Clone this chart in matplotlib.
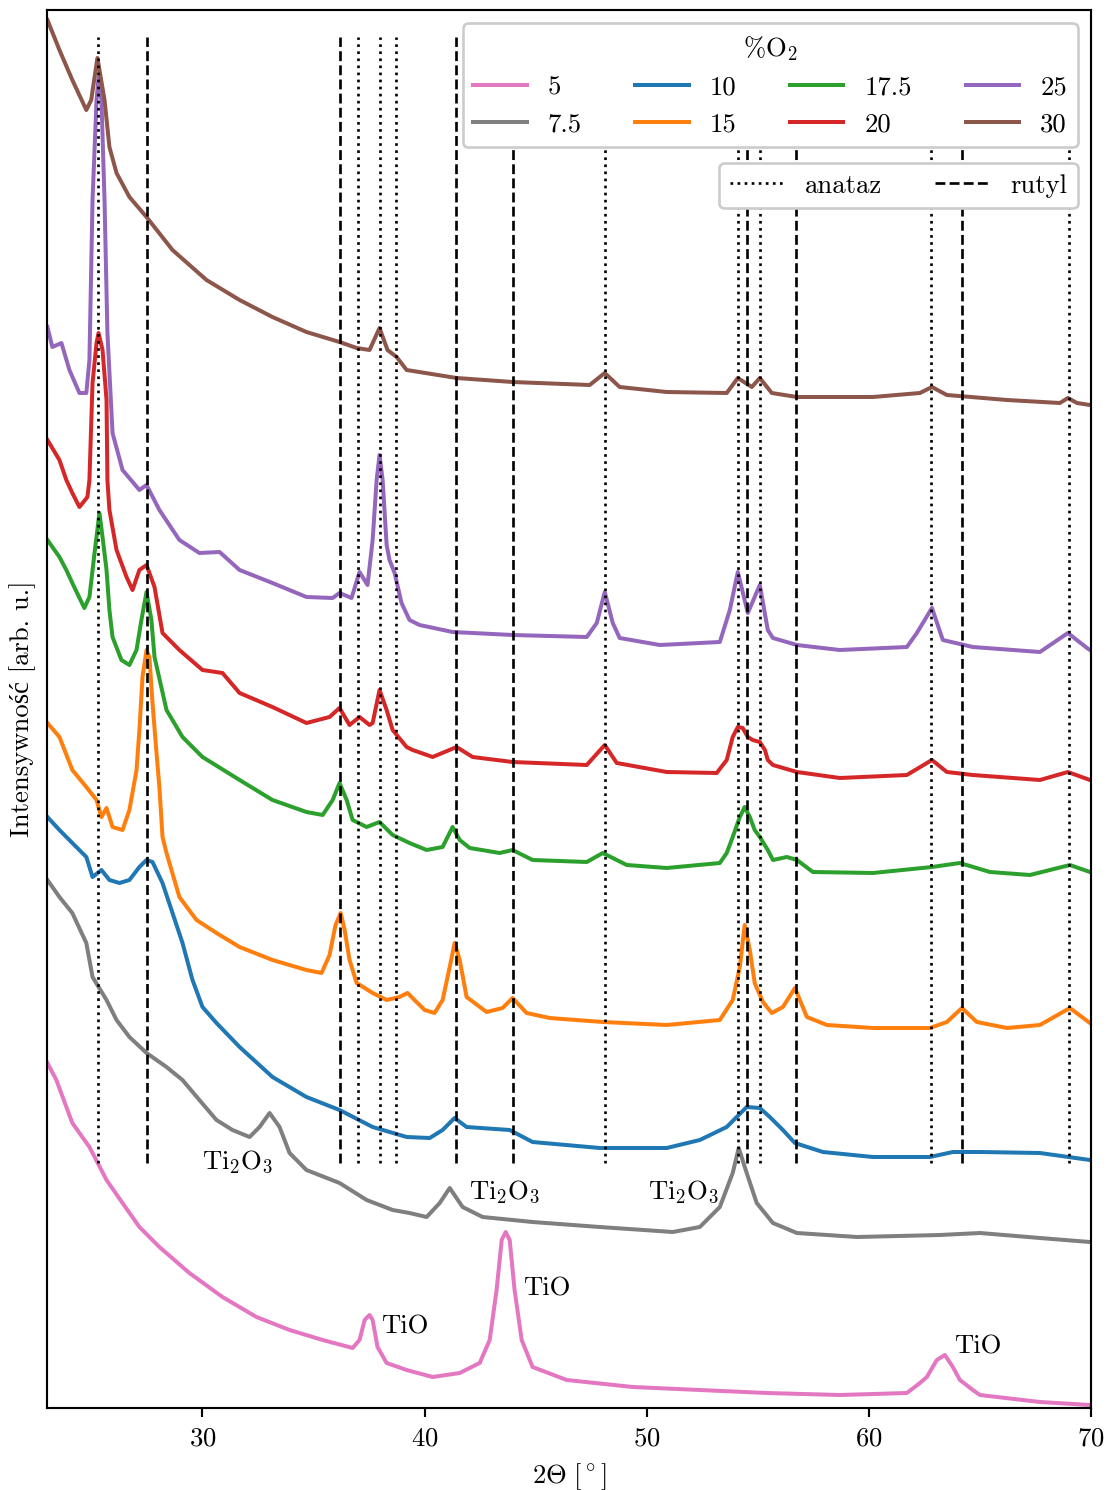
import matplotlib
matplotlib.use("Agg")
import matplotlib.pyplot as plt
from matplotlib.lines import Line2D

plt.rcParams['font.family'] = ['cmr10', 'Liberation Serif']
plt.rcParams['mathtext.fontset'] = 'cm'
plt.rcParams['axes.formatter.use_mathtext'] = True

DPI = 192

# dyfraktogramy, wartosci odczytane (2theta [deg], intensywnosc z przesunieciem)
tt_5 = [23.02, 23.42, 24.14, 24.91, 25.68, 26.40, 27.16, 28.06, 29.41, 30.90, 32.43, 33.92,
        35.41, 36.76, 37.07, 37.30, 37.52, 37.66, 37.88, 38.29, 39.19, 40.36, 41.58, 42.48,
        42.93, 43.24, 43.47, 43.65, 43.83, 44.05, 44.37, 44.86, 46.40, 49.37, 52.39, 55.41,
        58.69, 61.71, 62.30, 62.61, 63.06, 63.42, 63.78, 64.10, 64.68, 65.00, 67.70, 69.95]
int_5 = [345, 328, 285, 261, 228, 205, 181, 161, 135, 111, 91, 78,
         68, 60, 68, 88, 93, 88, 61, 45, 38, 31, 35, 45,
         68, 118, 168, 176, 168, 118, 68, 41, 28, 21, 18, 15,
         13, 15, 25, 31, 48, 53, 41, 28, 18, 13, 6, 3]

tt_7_5 = [23.02, 23.56, 24.14, 24.77, 25.05, 25.68, 26.13, 26.71, 27.48, 28.38, 29.10, 29.86,
          30.63, 31.35, 32.12, 32.57, 33.02, 33.47, 33.92, 34.68, 36.17, 37.39, 38.56, 39.32,
          40.09, 40.68, 41.13, 41.71, 42.61, 44.86, 47.88, 51.17, 52.39, 53.29, 53.87, 54.14,
          54.50, 54.95, 55.68, 56.76, 59.46, 63.20, 65.00, 67.70, 69.95]
int_7_5 = [528, 511, 495, 465, 431, 408, 388, 371, 355, 341, 328, 308,
           288, 278, 271, 281, 295, 281, 255, 238, 225, 208, 198, 195,
           191, 205, 220, 201, 191, 186, 181, 176, 181, 201, 235, 260,
           235, 205, 185, 175, 171, 173, 175, 170, 166]

tt_10 = [23.02, 23.56, 24.14, 24.77, 25.05, 25.45, 25.81, 26.26, 26.71, 27.16, 27.48, 27.75,
         28.20, 28.65, 29.10, 29.55, 30.00, 30.63, 31.67, 33.15, 34.68, 36.17, 37.66, 39.19,
         40.23, 40.81, 41.35, 41.89, 43.83, 44.86, 47.88, 50.90, 52.39, 53.60, 54.50, 55.09,
         55.54, 56.13, 56.67, 57.93, 60.18, 62.75, 63.78, 65.00, 67.70, 69.95]
int_10 = [591, 578, 565, 551, 531, 538, 528, 525, 528, 541, 548, 546,
          525, 495, 465, 428, 401, 385, 361, 331, 311, 298, 281, 271,
          270, 278, 290, 281, 278, 266, 260, 260, 268, 281, 301, 300,
          291, 278, 265, 256, 251, 251, 256, 256, 255, 248]

tt_15 = [23.02, 23.56, 24.14, 24.77, 25.23, 25.45, 25.68, 25.95, 26.40, 26.71, 27.03, 27.16,
         27.30, 27.48, 27.61, 27.75, 27.93, 28.06, 28.20, 28.38, 28.96, 29.73, 30.63, 31.67,
         33.15, 34.68, 35.36, 35.72, 35.99, 36.22, 36.40, 36.62, 36.94, 37.66, 38.29, 38.87,
         39.23, 40.00, 40.45, 40.81, 41.13, 41.35, 41.58, 41.89, 42.79, 43.51, 43.96, 44.59,
         45.63, 48.02, 50.90, 53.29, 53.87, 54.19, 54.41, 54.64, 54.86, 55.23, 55.63, 56.13,
         56.67, 57.21, 58.11, 60.18, 62.75, 63.51, 64.19, 64.86, 66.22, 67.70, 69.05, 69.95]
int_15 = [685, 671, 638, 621, 608, 591, 600, 581, 578, 598, 638, 678,
          731, 758, 751, 705, 655, 621, 571, 555, 511, 488, 475, 461,
          448, 438, 435, 453, 483, 495, 478, 448, 425, 415, 408, 411,
          415, 398, 395, 408, 441, 465, 448, 411, 396, 400, 410, 395,
          390, 386, 383, 388, 408, 441, 483, 458, 425, 406, 395, 401,
          420, 391, 383, 380, 380, 386, 400, 386, 380, 383, 400, 385]

tt_17_5 = [23.02, 23.56, 23.87, 24.14, 24.68, 24.91, 25.14, 25.36, 25.50, 25.68, 25.81, 25.95,
           26.35, 26.71, 27.03, 27.25, 27.48, 27.70, 27.84, 28.38, 29.10, 30.00, 31.67, 33.15,
           34.68, 35.41, 35.86, 36.17, 36.49, 36.76, 37.39, 37.97, 38.56, 39.32, 40.09, 40.81,
           41.26, 41.58, 42.03, 43.38, 43.96, 44.86, 47.30, 48.02, 49.10, 50.90, 53.29, 53.60,
           53.87, 54.19, 54.41, 54.64, 54.86, 55.09, 55.45, 55.68, 56.31, 56.76, 57.48, 60.18,
           62.84, 64.10, 65.45, 67.25, 69.05, 69.95]
int_17_5 = [868, 851, 838, 825, 800, 811, 855, 895, 871, 838, 798, 771,
            748, 743, 758, 788, 816, 788, 751, 698, 671, 651, 628, 608,
            596, 593, 608, 625, 608, 588, 581, 586, 573, 565, 558, 561,
            581, 568, 560, 555, 558, 548, 546, 555, 543, 540, 545, 555,
            571, 591, 601, 591, 578, 571, 558, 548, 551, 548, 536, 535,
            541, 545, 536, 533, 543, 536]

tt_20 = [23.02, 23.56, 23.87, 24.14, 24.46, 24.82, 24.91, 25.05, 25.23, 25.32, 25.50, 25.68,
         25.72, 25.81, 26.13, 26.58, 26.85, 27.16, 27.48, 27.84, 28.20, 28.96, 30.00, 30.90,
         31.67, 33.15, 34.68, 35.72, 36.17, 36.62, 37.07, 37.52, 37.66, 37.97, 38.29, 38.56,
         39.19, 39.46, 40.36, 41.44, 42.16, 43.96, 47.30, 48.11, 48.65, 50.90, 53.15, 53.60,
         53.87, 54.10, 54.32, 54.55, 54.77, 55.09, 55.32, 55.45, 55.68, 56.76, 58.69, 61.71,
         62.84, 63.51, 64.68, 67.70, 68.96, 69.95]
int_20 = [968, 948, 928, 915, 901, 911, 928, 1025, 1065, 1075, 1058, 1008,
          928, 898, 858, 831, 818, 838, 843, 821, 775, 758, 738, 735,
          715, 701, 685, 691, 700, 683, 691, 683, 685, 718, 698, 678,
          661, 658, 651, 661, 651, 646, 643, 663, 645, 636, 635, 648,
          671, 681, 680, 671, 668, 666, 658, 648, 643, 636, 630, 633,
          648, 636, 633, 628, 636, 628]

tt_25 = [23.02, 23.24, 23.65, 24.01, 24.46, 24.77, 24.91, 25.05, 25.23, 25.32, 25.45, 25.59,
         25.72, 25.95, 26.40, 27.16, 27.48, 28.06, 28.96, 29.86, 30.77, 31.67, 33.15, 34.68,
         35.86, 36.17, 36.71, 37.07, 37.43, 37.66, 37.84, 37.97, 38.11, 38.29, 38.42, 38.65,
         38.96, 39.32, 39.77, 41.26, 43.96, 47.30, 47.75, 48.11, 48.47, 48.78, 50.59, 53.29,
         53.74, 54.10, 54.55, 55.09, 55.45, 55.68, 56.76, 58.69, 61.71, 62.16, 62.84, 63.33,
         64.68, 67.70, 68.96, 69.82, 69.95]
int_25 = [1081, 1061, 1065, 1038, 1015, 1015, 1048, 1208, 1308, 1331, 1308, 1208,
          1075, 975, 938, 918, 923, 898, 868, 855, 856, 838, 825, 811,
          810, 815, 810, 836, 823, 868, 928, 953, 928, 863, 848, 835,
          805, 788, 783, 776, 773, 771, 785, 816, 785, 770, 763, 766,
          798, 836, 795, 823, 778, 770, 763, 758, 761, 775, 800, 768,
          761, 756, 775, 760, 758]

tt_30 = [23.02, 23.56, 24.14, 24.77, 24.99, 25.27, 25.59, 25.81, 26.13, 26.71, 27.48, 28.65,
         30.18, 31.67, 33.15, 34.68, 36.17, 36.94, 37.52, 37.97, 38.33, 38.74, 39.19, 41.44,
         43.96, 47.43, 48.11, 48.78, 50.90, 53.60, 54.10, 54.73, 55.09, 55.63, 56.76, 60.18,
         62.30, 62.84, 63.51, 66.22, 68.60, 68.96, 69.37, 69.95]
int_30 = [1388, 1358, 1328, 1298, 1308, 1350, 1308, 1261, 1235, 1211, 1191, 1158,
          1128, 1108, 1091, 1076, 1066, 1060, 1058, 1080, 1058, 1051, 1038, 1030,
          1026, 1023, 1035, 1021, 1016, 1015, 1030, 1021, 1030, 1015, 1011, 1011,
          1015, 1021, 1013, 1008, 1005, 1010, 1005, 1003]

o2_labels = ['5', '7.5', '10', '15', '17.5', '20', '25', '30']
colors = ['tab:pink', 'tab:gray', 'tab:blue', 'tab:orange',
          'tab:green', 'tab:red', 'tab:purple', 'tab:brown']
series = [(tt_5, int_5), (tt_7_5, int_7_5), (tt_10, int_10), (tt_15, int_15),
          (tt_17_5, int_17_5), (tt_20, int_20), (tt_25, int_25), (tt_30, int_30)]

# pozycje refleksow wzorcowych
anataz = [25.28, 36.98, 37.98, 38.70, 48.10, 54.10, 55.10, 62.80, 69.00]
rutyl = [27.48, 36.20, 41.40, 44.00, 54.50, 56.72, 64.20]

# podpisy faz
faza_txt = [r'$\mathrm{Ti_2O_3}$', r'$\mathrm{Ti_2O_3}$', r'$\mathrm{Ti_2O_3}$',
            'TiO', 'TiO', 'TiO']
faza_x = [30.0, 41.98, 50.05, 38.06, 44.41, 63.83]
faza_y = [240, 210, 210, 75, 112, 55]

fig = plt.figure(figsize=(1108 / DPI, 1490 / DPI), dpi=DPI)
ax = fig.add_axes([47 / 1108, 1 - 1408 / 1490, 1044 / 1108, 1398 / 1490])

linie = []
for (tt, inten), lab, c in zip(series, o2_labels, colors):
    l, = ax.plot(tt, inten, color=c, lw=1.5, label=lab)
    linie.append(l)

ax.vlines(anataz, 245, 1371, colors='k', linestyles=':', lw=1)
ax.vlines(rutyl, 245, 1371, colors='k', linestyles='--', lw=1)

for t, x, y in zip(faza_txt, faza_x, faza_y):
    ax.text(x, y, t, ha='left', va='baseline', fontsize=10)

ax.set_xlim(23, 70)
ax.set_ylim(0, 1398)
ax.set_yticks([])
ax.set_xlabel(r'$2\Theta\ [^\circ]$')
ax.set_ylabel('Intensywność [arb. u.]')

leg1 = ax.legend(handles=linie, title=r'$\%\mathrm{O}_2$', ncol=4,
                 loc='upper right', framealpha=1)
ax.add_artist(leg1)
wzorce = [Line2D([], [], color='k', ls=':', lw=1),
          Line2D([], [], color='k', ls='--', lw=1)]
ax.legend(wzorce, ['anataz', 'rutyl'], ncol=2, loc='upper right',
          bbox_to_anchor=(1, 0.9), framealpha=1)

fig.savefig('out.png', dpi=DPI)
